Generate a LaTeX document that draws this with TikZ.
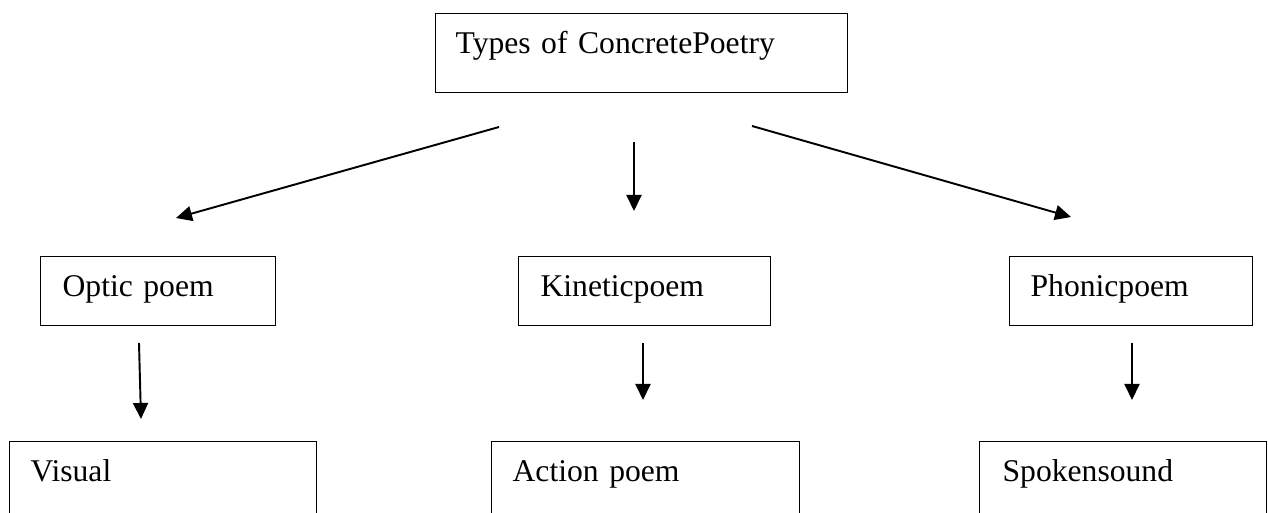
\documentclass[tikz,border=0pt]{standalone}
\usepackage{fontspec}
\setmainfont{Liberation Serif}
\usepackage{tikz}
\usetikzlibrary{arrows.meta,calc}

\tikzset{
  typebox/.style={draw,line width=0.7pt,anchor=north west,inner ysep=0pt,
    align=left,font=\fontsize{18}{22}\selectfont,text height=0.8cm},
  flowarrow/.style={line width=1.1pt,-{Triangle[length=0.32cm,width=0.3cm]}}
}

\begin{document}
\begin{tikzpicture}
  \useasboundingbox (0,0) rectangle (25.36,10.24);
  % boxes
  \node[typebox,inner xsep=0.4cm,text width=7.44cm,text depth=0.78cm] (types) at (8.70,9.98) {Types of ConcretePoetry};
  \node[typebox,inner xsep=0.44cm,text width=3.82cm,text depth=0.58cm] (optic) at (0.80,5.12) {Optic poem};
  \node[typebox,inner xsep=0.44cm,text width=4.16cm,text depth=0.58cm] (kinetic) at (10.36,5.12) {Kineticpoem};
  \node[typebox,inner xsep=0.42cm,text width=4.02cm,text depth=0.58cm] (phonic) at (20.18,5.12) {Phonicpoem};
  \node[typebox,inner xsep=0.42cm,text width=5.30cm,text depth=1.2cm] (visual) at (0.18,1.42) {Visual};
  \node[typebox,inner xsep=0.42cm,text width=5.32cm,text depth=1.2cm] (action) at (9.82,1.42) {Action poem};
  \node[typebox,inner xsep=0.46cm,text width=4.82cm,text depth=1.2cm] (spoken) at (19.58,1.42) {Spokensound};
  \node[anchor=base west,inner sep=0pt,font=\fontsize{18}{22}\selectfont] (visualb) at ($(visual.north west)+(0.42,-1.98)$) {representation};
  % arrow ends
  \coordinate (tl) at (9.98,7.70);  \coordinate (ol) at (3.52,5.88);
  \coordinate (tm) at (12.68,7.40); \coordinate (km) at (12.68,6.02);
  \coordinate (tr) at (15.04,7.72); \coordinate (pr) at (21.42,5.90);
  \coordinate (od) at (2.78,3.38);  \coordinate (vd) at (2.82,1.86);
  \coordinate (kd) at (12.86,3.38); \coordinate (ad) at (12.86,2.24);
  \coordinate (pd) at (22.64,3.38); \coordinate (sd) at (22.64,2.24);
  \draw[flowarrow] (tl) -- (ol);
  \draw[flowarrow] (tm) -- (km);
  \draw[flowarrow] (tr) -- (pr);
  \draw[flowarrow] (od) -- (vd);
  \draw[flowarrow] (kd) -- (ad);
  \draw[flowarrow] (pd) -- (sd);
\end{tikzpicture}
\end{document}
